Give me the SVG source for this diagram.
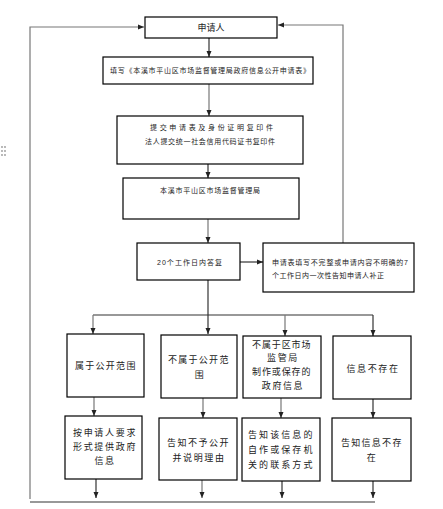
<svg xmlns="http://www.w3.org/2000/svg" width="443" height="509" viewBox="0 0 443 509">
<style>
.box{fill:#fff;stroke:#000;stroke-width:1.2}
.c{fill:none;stroke:#333;stroke-width:1.2}
.g{fill:none;stroke:#777;stroke-width:1.2}
text{font-family:"Liberation Sans","Noto Sans CJK SC",sans-serif;fill:#222}
.s{font-size:7px}
.m{font-size:9px;letter-spacing:1.6px}
.mid{text-anchor:middle}
</style>
<defs>
<marker id="ah" viewBox="0 0 6 6" refX="6" refY="3" markerWidth="6" markerHeight="6" markerUnits="userSpaceOnUse" orient="auto">
<path d="M0,0.5 L6,3 L0,5.5 Z" fill="#222"/>
</marker>
</defs>
<rect width="443" height="509" fill="#fff"/>
<g id="handle" fill="#999">
<circle cx="2" cy="147" r="0.9"/><circle cx="5" cy="147" r="0.9"/>
<circle cx="2" cy="151" r="0.9"/><circle cx="5" cy="151" r="0.9"/>
<circle cx="2" cy="155" r="0.9"/><circle cx="5" cy="155" r="0.9"/>
</g>
<g id="connectors">
<path class="g" d="M30,499 V27 H144" marker-end="url(#ah)"/>
<path class="g" d="M343,243 V25 H278" marker-end="url(#ah)"/>
<path class="c" d="M209,38 V57" marker-end="url(#ah)"/>
<path class="g" d="M209,84 V116" marker-end="url(#ah)"/>
<path class="c" d="M208,164 V178" marker-end="url(#ah)"/>
<path class="g" d="M208,219 V243" marker-end="url(#ah)"/>
<path class="c" d="M240,262 H263" marker-end="url(#ah)"/>
<path class="c" d="M208,280 V334" marker-end="url(#ah)"/>
<path class="c" d="M93,315 H373"/>
<path class="g" d="M93,315 V334" marker-end="url(#ah)"/>
<path class="g" d="M285,315 V336" marker-end="url(#ah)"/>
<path class="c" d="M373,315 V336" marker-end="url(#ah)"/>
<path class="g" d="M94,397 V416" marker-end="url(#ah)"/>
<path class="g" d="M203,398 V418" marker-end="url(#ah)"/>
<path class="g" d="M281,398 V418" marker-end="url(#ah)"/>
<path class="c" d="M373,399 V418" marker-end="url(#ah)"/>
<path class="c" d="M96,479 V498" marker-end="url(#ah)"/>
<path class="g" d="M202,480 V498" marker-end="url(#ah)"/>
<path class="c" d="M282,481 V498" marker-end="url(#ah)"/>
<path class="c" d="M373,481 V498" marker-end="url(#ah)"/>
<path class="c" d="M30,502 H375"/>
</g>
<g id="n-applicant">
<rect class="box" x="145" y="17" width="132" height="21"/>
<text class="mid" x="211" y="31" font-size="9">申请人</text>
</g>
<g id="n-fill">
<rect class="box" x="103" y="57" width="210" height="27"/>
<text class="s" x="110" y="73" textLength="200" lengthAdjust="spacing">填写《本溪市平山区市场监督管理局政府信息公开申请表》</text>
</g>
<g id="n-submit">
<rect class="box" x="117" y="116" width="186" height="48"/>
<text class="s" x="150" y="130" textLength="123" lengthAdjust="spacing">提交申请表及身份证明复印件</text>
<text class="s" x="145" y="144" textLength="130" lengthAdjust="spacing">法人提交统一社会信用代码证书复印件</text>
</g>
<g id="n-bureau">
<rect class="box" x="123" y="178" width="176" height="41"/>
<text class="s" x="160" y="193" textLength="100" lengthAdjust="spacing">本溪市平山区市场监督管理局</text>
</g>
<g id="n-reply">
<rect class="box" x="137" y="243" width="103" height="37"/>
<text class="s" x="157" y="265" textLength="65" lengthAdjust="spacing">20个工作日内答复</text>
</g>
<g id="n-correct">
<rect class="box" x="263" y="243" width="151" height="49"/>
<text class="s" x="272" y="265" textLength="136" lengthAdjust="spacing">申请表填写不完整或申请内容不明确的7</text>
<text class="s" x="272" y="278" textLength="112" lengthAdjust="spacing">个工作日内一次性告知申请人补正</text>
</g>
<g id="n-public">
<rect class="box" x="67" y="334" width="77" height="63"/>
<text class="m" x="75" y="369" textLength="62" lengthAdjust="spacing">属于公开范围</text>
</g>
<g id="n-notpublic">
<rect class="box" x="161" y="335" width="76" height="63"/>
<text class="m" x="168" y="363" textLength="62" lengthAdjust="spacing">不属于公开范</text>
<text class="m mid" x="200" y="378">围</text>
</g>
<g id="n-notours">
<rect class="box" x="243" y="336" width="78" height="62"/>
<text class="m" x="252" y="348" textLength="60" lengthAdjust="spacing">不属于区市场</text>
<text class="m mid" x="283" y="361">监管局</text>
<text class="m" x="252" y="375" textLength="60" lengthAdjust="spacing">制作或保存的</text>
<text class="m mid" x="283" y="389">政府信息</text>
</g>
<g id="n-none">
<rect class="box" x="333" y="336" width="78" height="63"/>
<text class="m mid" x="373" y="372">信息不存在</text>
</g>
<g id="n-provide">
<rect class="box" x="65" y="416" width="77" height="63"/>
<text class="m" x="73" y="436" textLength="64" lengthAdjust="spacing">按申请人要求</text>
<text class="m" x="73" y="450" textLength="64" lengthAdjust="spacing">形式提供政府</text>
<text class="m mid" x="105" y="464">信息</text>
</g>
<g id="n-refuse">
<rect class="box" x="159" y="418" width="78" height="62"/>
<text class="m" x="167" y="446" textLength="63" lengthAdjust="spacing">告知不予公开</text>
<text class="m mid" x="199" y="461">并说明理由</text>
</g>
<g id="n-contact">
<rect class="box" x="242" y="418" width="78" height="63"/>
<text class="m" x="248" y="438" textLength="66" lengthAdjust="spacing">告知该信息的</text>
<text class="m" x="248" y="453" textLength="66" lengthAdjust="spacing">自作或保存机</text>
<text class="m" x="248" y="468" textLength="66" lengthAdjust="spacing">关的联系方式</text>
</g>
<g id="n-notexist">
<rect class="box" x="332" y="418" width="79" height="63"/>
<text class="m" x="341" y="446" textLength="62" lengthAdjust="spacing">告知信息不存</text>
<text class="m mid" x="372" y="461">在</text>
</g>
</svg>
